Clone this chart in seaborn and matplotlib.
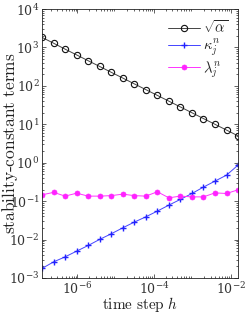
import numpy as np
import pandas as pd
import matplotlib
matplotlib.use("Agg")
import matplotlib.pyplot as plt
import seaborn as sns
from matplotlib.ticker import LogLocator, NullFormatter

# time steps h = 2^-23 ... 2^-6
h = [2.0**-23, 2.0**-22, 2.0**-21, 2.0**-20, 2.0**-19, 2.0**-18, 2.0**-17, 2.0**-16,
     2.0**-15, 2.0**-14, 2.0**-13, 2.0**-12, 2.0**-11, 2.0**-10, 2.0**-9, 2.0**-8,
     2.0**-7, 2.0**-6]
sqrt_alpha = [1830, 1290, 905, 640, 452, 320, 226, 160, 113, 80, 56.6, 40, 28.3,
              20, 14.1, 10, 7.07, 5.0]
kappa = [1.77e-3, 2.62e-3, 3.54e-3, 4.99e-3, 7.0e-3, 1.01e-2, 1.41e-2, 2.02e-2,
         2.84e-2, 3.9e-2, 5.5e-2, 7.87e-2, 0.111, 0.158, 0.232, 0.332, 0.475, 0.866]
lam = [0.146, 0.169, 0.135, 0.161, 0.135, 0.135, 0.139, 0.152, 0.139,
       0.135, 0.175, 0.122, 0.135, 0.129, 0.129, 0.164, 0.158, 0.197]
labels = [r'$\sqrt{\alpha}$', r'$\kappa_j^n$', r'$\lambda_j^n$']

sns.set_style('ticks')
plt.rcParams['mathtext.fontset'] = 'cm'
plt.rcParams['font.family'] = ['DejaVu Serif']
plt.rcParams['xtick.direction'] = 'in'
plt.rcParams['ytick.direction'] = 'in'

df = pd.DataFrame({
    'h': h * 3,
    'value': sqrt_alpha + kappa + lam,
    'series': [labels[0]] * len(h) + [labels[1]] * len(h) + [labels[2]] * len(h),
})

fig = plt.figure(figsize=(2.49, 3.13), dpi=100)
ax = fig.add_axes([0.169, 0.112, 0.787, 0.859])

palette = {labels[0]: '#444444', labels[1]: '#4444ff', labels[2]: '#ff33ff'}
for lab in labels:
    sub = df[df['series'] == lab]
    if lab == labels[0]:
        kw = dict(marker='o', markersize=4.5, markerfacecolor='none',
                  markeredgecolor='#111111', markeredgewidth=0.8)
    elif lab == labels[1]:
        kw = dict(marker='+', markersize=5, markeredgecolor='#2222ff',
                  markeredgewidth=1.0)
    else:
        kw = dict(marker='o', markersize=3.6, markerfacecolor='#ff22ff',
                  markeredgecolor='#ff22ff', markeredgewidth=0.5)
    sns.lineplot(data=sub, x='h', y='value', ax=ax, label=lab, color=palette[lab],
                 linewidth=0.7, **kw)

ax.set_xscale('log')
ax.set_yscale('log')
ax.set_xlim(h[0], h[-1])
ax.set_ylim(1e-3, 1e4)
ax.set_xticks([1e-6, 1e-4, 1e-2])
ax.set_yticks([1e-3, 1e-2, 1e-1, 1e0, 1e1, 1e2, 1e3, 1e4])
ax.yaxis.set_minor_locator(LogLocator(base=10, subs=np.arange(2, 10), numticks=20))
ax.xaxis.set_minor_locator(LogLocator(base=10, subs=np.arange(2, 10), numticks=20))
ax.yaxis.set_minor_formatter(NullFormatter())
ax.xaxis.set_minor_formatter(NullFormatter())
ax.tick_params(which='both', top=True, right=True, labelsize=9, colors='#222222',
               labelcolor='#333333', width=0.5, pad=2)
ax.tick_params(which='major', length=3)
ax.tick_params(which='minor', length=1.5)
for s in ax.spines.values():
    s.set_linewidth(0.6)
    s.set_color('#222222')

ax.set_xlabel(r'$\mathrm{time\ step}\ h$', fontsize=11, color='#222222')
ax.xaxis.set_label_coords(0.5, -0.062)
ax.set_ylabel(r'$\mathrm{stability\text{-}constant\ terms}$', fontsize=12.5,
              color='#222222')
ax.yaxis.set_label_coords(-0.115, 0.5)

leg = ax.legend(loc='upper right', frameon=False, fontsize=10.5, handlelength=2.2,
                borderaxespad=0.3, labelspacing=0.1, handletextpad=0.2)

fig.savefig('out.png', dpi=100)
